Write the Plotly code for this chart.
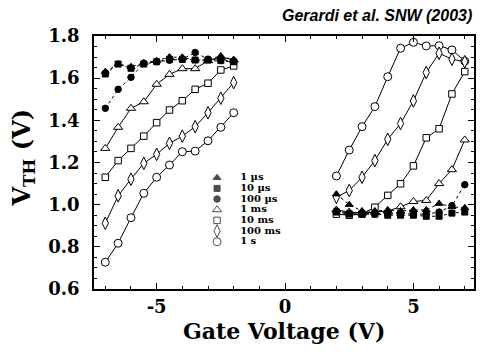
import plotly.graph_objects as go

# ---------------- data ----------------
x_left = [-7, -6.5, -6, -5.5, -5, -4.5, -4, -3.5, -3, -2.5, -2]
x_right = [2, 2.5, 3, 3.5, 4, 4.5, 5, 5.5, 6, 6.5, 7]

series_names = ["1 µs", "10 µs", "100 µs", "1 ms", "10 ms", "100 ms", "1 s"]

vth_1us_left = [1.631, 1.667, 1.654, 1.673, 1.683, 1.700, 1.699, 1.686, 1.689, 1.705, 1.686]
vth_10us_left = [1.620, 1.667, 1.647, 1.667, 1.678, 1.689, 1.689, 1.686, 1.686, 1.683, 1.678]
vth_100us_left = [1.457, 1.547, 1.604, 1.671, 1.678, 1.685, 1.690, 1.722, 1.690, 1.688, 1.680]
vth_1ms_left = [1.267, 1.367, 1.457, 1.488, 1.571, 1.618, 1.645, 1.645, 1.683, 1.700, 1.686]
vth_10ms_left = [1.130, 1.209, 1.267, 1.325, 1.389, 1.449, 1.493, 1.547, 1.576, 1.639, 1.658]
vth_100ms_left = [0.912, 1.042, 1.121, 1.196, 1.239, 1.291, 1.325, 1.370, 1.436, 1.505, 1.579]
vth_1s_left = [0.727, 0.817, 0.938, 1.054, 1.130, 1.188, 1.251, 1.254, 1.303, 1.367, 1.436]

vth_1us_right = [1.050, 1.000, 0.970, 0.970, 0.975, 0.970, 0.975, 0.975, 1.005, 0.990, 0.985]
vth_10us_right = [0.965, 0.955, 0.955, 0.955, 0.950, 0.950, 0.950, 0.945, 0.945, 0.960, 0.965]
vth_100us_right = [0.970, 0.960, 0.960, 0.955, 0.955, 0.960, 0.955, 0.955, 0.965, 0.995, 1.095]
vth_1ms_right = [0.975, 0.965, 0.960, 0.965, 0.970, 0.990, 1.015, 1.020, 1.100, 1.166, 1.307]
vth_10ms_right = [0.955, 0.950, 0.955, 0.988, 1.044, 1.099, 1.184, 1.317, 1.360, 1.525, 1.631]
vth_100ms_right = [1.035, 1.067, 1.130, 1.209, 1.310, 1.385, 1.492, 1.627, 1.718, 1.690, 1.678]
vth_1s_right = [1.136, 1.259, 1.370, 1.465, 1.607, 1.742, 1.770, 1.753, 1.754, 1.734, 1.681]

x_tickvals = [-5, 0, 5]
x_ticktext = ["-5", "0", "5"]
y_tickvals = [0.6, 0.8, 1.0, 1.2, 1.4, 1.6, 1.8]
y_ticktext = ["0.6", "0.8", "1.0", "1.2", "1.4", "1.6", "1.8"]

# ---------------- styles ----------------
left_data = [vth_1us_left, vth_10us_left, vth_100us_left, vth_1ms_left,
             vth_10ms_left, vth_100ms_left, vth_1s_left]
right_data = [vth_1us_right, vth_10us_right, vth_100us_right, vth_1ms_right,
              vth_10ms_right, vth_100ms_right, vth_1s_right]

styles = [
    dict(symbol="triangle-up", size=7, fill="black", dash="dot"),
    dict(symbol="square", size=6, fill="black", dash="dot"),
    dict(symbol="circle", size=6.5, fill="black", dash="dot"),
    dict(symbol="triangle-up", size=8, fill="white", dash="solid"),
    dict(symbol="square", size=6.5, fill="white", dash="solid"),
    dict(symbol="diamond-tall", size=9, fill="white", dash="solid"),
    dict(symbol="circle", size=8, fill="white", dash="solid"),
]

SERIF = "DejaVu Serif"

fig = go.Figure()

# draw open-symbol curves first, filled symbols on top
for i in [6, 5, 4, 3, 2, 1, 0]:
    st = styles[i]
    xs = x_left + [None] + x_right
    ys = left_data[i] + [None] + right_data[i]
    fig.add_trace(go.Scatter(
        x=xs, y=ys, mode="lines+markers", name=series_names[i],
        showlegend=False, connectgaps=False,
        line=dict(color="black", width=1, dash=st["dash"]),
        marker=dict(symbol=st["symbol"], size=st["size"], color=st["fill"],
                    line=dict(color="black", width=1)),
        cliponaxis=False,
    ))

# manual compact legend on an overlay axis
legend_rows = list(range(len(series_names)))
fig.add_trace(go.Scatter(
    x=[0] * len(series_names), y=legend_rows, mode="markers",
    xaxis="x2", yaxis="y2", showlegend=False, hoverinfo="skip",
    marker=dict(symbol=[s["symbol"] for s in styles],
                size=[s["size"] for s in styles],
                color=[s["fill"] for s in styles],
                line=dict(color="black", width=1)),
))
fig.add_trace(go.Scatter(
    x=[0.85] * len(series_names), y=legend_rows, mode="text",
    text=series_names, textposition="middle right",
    xaxis="x2", yaxis="y2", showlegend=False, hoverinfo="skip",
    textfont=dict(family=SERIF, size=10, color="black", weight="bold"),
))

axis_common = dict(
    showline=True, linecolor="black", linewidth=1.5, mirror="allticks",
    ticks="inside", ticklen=6, tickwidth=1, tickcolor="black",
    showgrid=False, zeroline=False,
    tickfont=dict(family=SERIF, size=18, color="black", weight="bold"),
)

fig.update_layout(
    width=485, height=353,
    margin=dict(l=94, r=9, t=36, b=64),
    paper_bgcolor="white", plot_bgcolor="white",
    showlegend=False,
    xaxis=dict(range=[-7.44, 7.36], tickvals=x_tickvals, ticktext=x_ticktext,
               ticklabelstandoff=1,
               minor=dict(dtick=1, tick0=0, ticks="inside", ticklen=3,
                          tickcolor="black", tickwidth=1),
               **axis_common),
    yaxis=dict(range=[0.6, 1.8], tickvals=y_tickvals, ticktext=y_ticktext,
               ticklabelstandoff=9,
               minor=dict(dtick=0.05, tick0=0.6, ticks="inside", ticklen=3,
                          tickcolor="black", tickwidth=1),
               **axis_common),
    xaxis2=dict(overlaying="x", range=[-4.53, 9.46], visible=False),
    yaxis2=dict(overlaying="y", range=[10.43, -13.28], visible=False),
    annotations=[
        dict(text="Gerardi et al. SNW (2003)", xref="paper", yref="paper",
             x=1.0, y=1.0, xanchor="right", yanchor="middle", yshift=21,
             showarrow=False,
             font=dict(family="Liberation Sans", size=16, color="black",
                       weight="bold", style="italic")),
        dict(text="Gate Voltage (V)", xref="paper", yref="paper",
             x=0.5, y=0, xanchor="center", yanchor="middle", yshift=-42,
             showarrow=False,
             font=dict(family=SERIF, size=22, color="black", weight="bold")),
        dict(text="V<sub>TH</sub> (V)", xref="paper", yref="paper",
             x=0, y=0.5, xanchor="center", yanchor="middle", xshift=-72,
             yshift=5, textangle=-90, showarrow=False,
             font=dict(family=SERIF, size=24, color="black", weight="bold")),
    ],
)

fig.write_html("out.html")
